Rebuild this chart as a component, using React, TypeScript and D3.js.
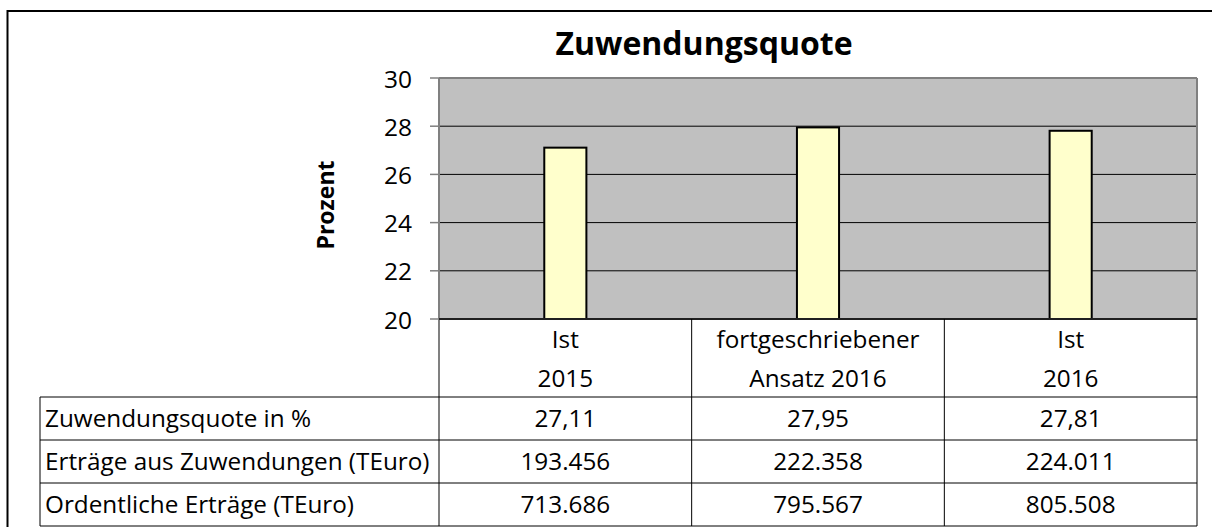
import React from "react";
import * as d3 from "d3";

const categoryKeys = ["Ist 2015", "fortgeschriebener Ansatz 2016", "Ist 2016"];
const categoryLine1 = ["Ist", "fortgeschriebener", "Ist"];
const categoryLine2 = ["2015", "Ansatz 2016", "2016"];
const quoteValues = [27.11, 27.95, 27.81];
const zuwendungenValues = [193456, 222358, 224011];
const ordentlicheValues = [713686, 795567, 805508];
const rowLabels = [
  "Zuwendungsquote in %",
  "Erträge aus Zuwendungen (TEuro)",
  "Ordentliche Erträge (TEuro)",
];
const yTicks = [20, 22, 24, 26, 28, 30];
const yDomain = [20, 30];
const titleText = "Zuwendungsquote";
const yAxisLabel = "Prozent";

const de = d3.formatLocale({
  decimal: ",",
  thousands: ".",
  grouping: [3],
  currency: ["", " €"],
});
const fmtQuote = de.format(",.2f");
const fmtInt = de.format(",d");

const W = 1212;
const H = 527;
const FONT = "'Open Sans', sans-serif";
const TABLE_FS = 24.3;

export default function App() {
  const plotLeft = 439;
  const plotRight = 1197;
  const plotTop = 78;
  const plotBottom = 319;
  const headerBottom = 397;
  const rowH = 43;
  const tableLeft = 40;

  const y = d3.scaleLinear().domain(yDomain).range([plotBottom, plotTop]);
  const x = d3.scaleBand<string>().domain(categoryKeys).range([plotLeft, plotRight]);
  const bw = x.bandwidth();
  const barW = bw / 6;

  const rows = [
    quoteValues.map((v) => fmtQuote(v)),
    zuwendungenValues.map((v) => fmtInt(v)),
    ordentlicheValues.map((v) => fmtInt(v)),
  ];
  const tableBottom = headerBottom + rowH * rows.length;

  return (
    <svg
      width={W}
      height={H}
      style={{ position: "absolute", left: 0, top: 0, background: "#fff" }}
      fontFamily={FONT}
    >
      {/* outer frame */}
      <rect x={7.5} y={11} width={W + 20} height={H + 20} fill="#fff" stroke="#000" strokeWidth={2} />

      {/* title */}
      <text x={704} y={55} textAnchor="middle" fontSize={32} fontWeight="bold" fill="#000">
        {titleText}
      </text>

      {/* plot area */}
      <rect x={plotLeft} y={plotTop} width={plotRight - plotLeft} height={plotBottom - plotTop} fill="#c0c0c0" />

      {/* gridlines */}
      {yTicks
        .filter((t) => t !== yDomain[0] && t !== yDomain[1])
        .map((t) => (
          <line key={"g" + t} x1={plotLeft} x2={plotRight} y1={y(t)} y2={y(t)} stroke="#000" strokeWidth={1} />
        ))}

      {/* bars */}
      {quoteValues.map((v, i) => {
        const cx = (x(categoryKeys[i]) as number) + bw / 2;
        return (
          <rect
            key={"b" + i}
            x={cx - barW / 2}
            y={y(v)}
            width={barW}
            height={y(yDomain[0]) - y(v)}
            fill="#ffffcc"
            stroke="#000"
            strokeWidth={2}
          />
        );
      })}

      {/* plot border top/right */}
      <line x1={plotLeft} x2={plotRight} y1={plotTop} y2={plotTop} stroke="#808080" strokeWidth={2} />
      <line x1={plotRight} x2={plotRight} y1={plotTop} y2={tableBottom} stroke="#808080" strokeWidth={2} />
      {/* y axis line */}
      <line x1={plotLeft} x2={plotLeft} y1={plotTop} y2={tableBottom} stroke="#808080" strokeWidth={2} />
      {/* bottom axis */}
      <line x1={plotLeft} x2={plotRight} y1={plotBottom} y2={plotBottom} stroke="#202020" strokeWidth={2} />

      {/* y ticks */}
      {yTicks.map((t) => (
        <g key={"t" + t}>
          <line x1={430} x2={plotLeft} y1={y(t)} y2={y(t)} stroke="#808080" strokeWidth={1.5} />
          <text x={412} y={y(t)} textAnchor="end" dominantBaseline="central" fontSize={24.5} fill="#000">
            {t}
          </text>
        </g>
      ))}

      {/* y axis label */}
      <text
        transform={`translate(325,205) rotate(-90)`}
        textAnchor="middle"
        dominantBaseline="central"
        fontSize={23}
        fontWeight="bold"
        fill="#000"
      >
        {yAxisLabel}
      </text>

      {/* data table: category separators */}
      {categoryKeys.slice(1).map((c) => (
        <line
          key={"s" + c}
          x1={x(c) as number}
          x2={x(c) as number}
          y1={plotBottom}
          y2={tableBottom}
          stroke="#000"
          strokeWidth={1}
        />
      ))}
      {/* horizontal row lines */}
      {d3.range(rows.length + 1).map((r) => (
        <line
          key={"r" + r}
          x1={tableLeft}
          x2={plotRight}
          y1={headerBottom + r * rowH}
          y2={headerBottom + r * rowH}
          stroke="#000"
          strokeWidth={1}
        />
      ))}
      <line x1={tableLeft} x2={tableLeft} y1={headerBottom} y2={tableBottom} stroke="#000" strokeWidth={1} />

      {/* category labels */}
      {categoryKeys.map((c, i) => {
        const cx = (x(c) as number) + bw / 2;
        return (
          <g key={"c" + i}>
            <text x={cx} y={338.5} textAnchor="middle" dominantBaseline="central" fontSize={TABLE_FS} fill="#000">
              {categoryLine1[i]}
            </text>
            <text x={cx} y={377.5} textAnchor="middle" dominantBaseline="central" fontSize={TABLE_FS} fill="#000">
              {categoryLine2[i]}
            </text>
          </g>
        );
      })}

      {/* row labels and values */}
      {rows.map((vals, r) => {
        const cy = headerBottom + r * rowH + rowH / 2 - 1;
        return (
          <g key={"row" + r}>
            <text x={tableLeft + 5} y={cy} dominantBaseline="central" fontSize={TABLE_FS} fill="#000">
              {rowLabels[r]}
            </text>
            {vals.map((v, i) => (
              <text
                key={i}
                x={(x(categoryKeys[i]) as number) + bw / 2}
                y={cy}
                textAnchor="middle"
                dominantBaseline="central"
                fontSize={TABLE_FS}
                fill="#000"
              >
                {v}
              </text>
            ))}
          </g>
        );
      })}
    </svg>
  );
}
